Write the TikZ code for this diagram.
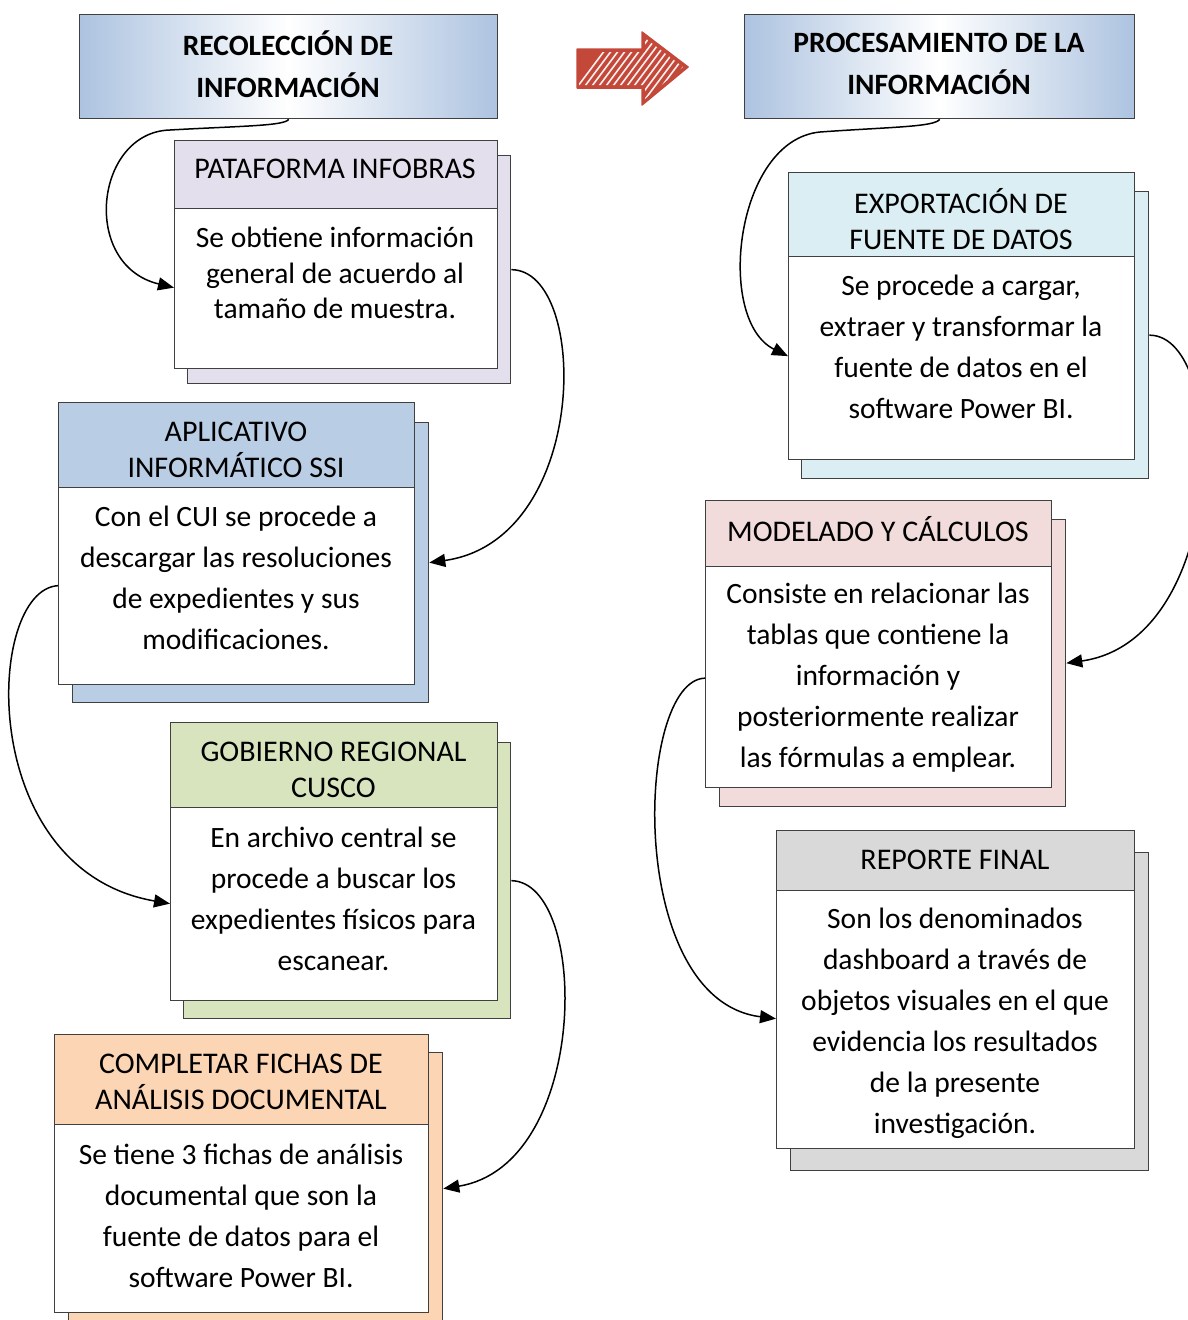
\documentclass[tikz,border=0pt]{standalone}
\usepackage{fontspec}
\setmainfont{Carlito}
\usetikzlibrary{arrows.meta}

\definecolor{framegray}{HTML}{404040}
\definecolor{hdblue}{HTML}{ADC3E0}
\definecolor{lav}{HTML}{E4DFEC}
\definecolor{sblue}{HTML}{B9CDE5}
\definecolor{sgreen}{HTML}{D7E4BD}
\definecolor{sorange}{HTML}{FCD5B5}
\definecolor{scyan}{HTML}{DBEEF4}
\definecolor{spink}{HTML}{F2DCDB}
\definecolor{sgray}{HTML}{D9D9D9}
\definecolor{arrred}{HTML}{C4483A}

\tikzset{
  backcard/.style={draw=framegray, line width=1.3pt, anchor=north west, inner sep=0pt},
  frontcard/.style={draw=framegray, fill=white, line width=1.3pt, anchor=north west, inner sep=0pt},
  bandcard/.style={draw=framegray, line width=1.3pt, anchor=north west, inner sep=0pt},
  topbox/.style={draw=framegray, line width=1.3pt, anchor=north west, inner sep=0pt,
    left color=hdblue, right color=hdblue, middle color=white},
  toptitle/.style={align=center, font=\fontsize{29.5}{42}\selectfont\bfseries},
  cardtitle/.style={align=center, font=\fontsize{30}{36}\selectfont},
  cardtext/.style={align=center, font=\fontsize{29.5}{41}\selectfont},
  link/.style={line width=1.5pt, -{Triangle[length=16pt,width=13pt]}}
}

\begin{document}
\begin{tikzpicture}[x=1pt,y=-1pt]
  \useasboundingbox (0,0) rectangle (1187,1320);

  % headers
  \node[topbox, minimum width=418pt, minimum height=104pt] (hdL) at (79,14) {};
  \node[toptitle] (tL) at (288,64) {RECOLECCIÓN DE\\INFORMACIÓN};
  \node[topbox, minimum width=390pt, minimum height=104pt] (hdR) at (744,14) {};
  \node[toptitle] (tR) at (939,64) {PROCESAMIENTO DE LA\\INFORMACIÓN};

  % big red arrow
  \fill[arrred] (577,49) -- (642,49) -- (642,32) -- (688,67) -- (642,105) -- (642,88) -- (577,88) -- cycle;
  \begin{scope}
    \clip (579,52) -- (645,52) -- (645,38) -- (683,67) -- (645,99) -- (645,85) -- (579,85) -- cycle;
    \foreach \s in {0,7,...,160}
      \draw[white!92!arrred, line width=1.6pt] (560+\s,110) -- (620+\s,30);
  \end{scope}
  \draw[arrred, line width=1.5pt, line join=round] (577,49) -- (642,49) -- (642,32) -- (688,67) -- (642,105) -- (642,88) -- (577,88) -- cycle;

  % left column
  \node[backcard, fill=lav, minimum width=323pt, minimum height=228pt] (sh1) at (187,155) {};
  \node[frontcard, minimum width=323pt, minimum height=228pt] (cd1) at (174,140) {};
  \node[bandcard, fill=lav, minimum width=323pt, minimum height=68pt] (hd1) at (cd1.north west) {};
  \node[cardtitle] (n1) at (335,169) {PATAFORMA INFOBRAS};
  \node[cardtext, font=\fontsize{29.5}{35.5}\selectfont] (b1) at (335,273) {Se obtiene información\\general de acuerdo al\\tamaño de muestra.};

  \node[backcard, fill=sblue, minimum width=356pt, minimum height=280pt] (sh2) at (72,422) {};
  \node[frontcard, minimum width=356pt, minimum height=282pt] (cd2) at (58,402) {};
  \node[bandcard, fill=sblue, minimum width=356pt, minimum height=85pt] (hd2) at (cd2.north west) {};
  \node[cardtitle] (n2) at (236,449.5) {APLICATIVO\\INFORMÁTICO SSI};
  \node[cardtext] (b2) at (236,577.5) {Con el CUI se procede a\\descargar las resoluciones\\de expedientes y sus\\modificaciones.};

  \node[backcard, fill=sgreen, minimum width=327pt, minimum height=276pt] (sh3) at (183,742) {};
  \node[frontcard, minimum width=327pt, minimum height=278pt] (cd3) at (170,722) {};
  \node[bandcard, fill=sgreen, minimum width=327pt, minimum height=85pt] (hd3) at (cd3.north west) {};
  \node[cardtitle] (n3) at (333.5,770) {GOBIERNO REGIONAL\\CUSCO};
  \node[cardtext] (b3) at (333.5,898.5) {En archivo central se\\procede a buscar los\\expedientes físicos para\\escanear.};

  \node[backcard, fill=sorange, minimum width=374pt, minimum height=272pt] (sh4) at (68,1052) {};
  \node[frontcard, minimum width=374pt, minimum height=278pt] (cd4) at (54,1034) {};
  \node[bandcard, fill=sorange, minimum width=374pt, minimum height=90pt] (hd4) at (cd4.north west) {};
  \node[cardtitle] (n4) at (241,1082) {COMPLETAR FICHAS DE\\ANÁLISIS DOCUMENTAL};
  \node[cardtext] (b4) at (241,1215.5) {Se tiene 3 fichas de análisis\\documental que son la\\fuente de datos para el\\software Power BI.};

  % right column
  \node[backcard, fill=scyan, minimum width=347pt, minimum height=287pt] (sh5) at (801,191) {};
  \node[frontcard, minimum width=346pt, minimum height=287pt] (cd5) at (788,172) {};
  \node[bandcard, fill=scyan, minimum width=346pt, minimum height=84pt] (hd5) at (cd5.north west) {};
  \node[cardtitle] (n5) at (961,219) {EXPORTACIÓN DE\\FUENTE DE DATOS};
  \node[cardtext] (b5) at (961,346.5) {Se procede a cargar,\\extraer y transformar la\\fuente de datos en el\\software Power BI.};

  \node[backcard, fill=spink, minimum width=346pt, minimum height=287pt] (sh6) at (719,519) {};
  \node[frontcard, minimum width=346pt, minimum height=287pt] (cd6) at (705,500) {};
  \node[bandcard, fill=spink, minimum width=346pt, minimum height=66pt] (hd6) at (cd6.north west) {};
  \node[cardtitle] (n6) at (878,529) {MODELADO Y CÁLCULOS};
  \node[cardtext] (b6) at (878,678) {Consiste en relacionar las\\tablas que contiene la\\información y\\posteriormente realizar\\las fórmulas a emplear.};

  \node[backcard, fill=sgray, minimum width=358pt, minimum height=318pt] (sh7) at (790,852) {};
  \node[frontcard, minimum width=358pt, minimum height=318pt] (cd7) at (776,830) {};
  \node[bandcard, fill=sgray, minimum width=358pt, minimum height=60pt] (hd7) at (cd7.north west) {};
  \node[cardtitle] (n7) at (955,860) {REPORTE FINAL};
  \node[cardtext] (b7) at (955,1023) {Son los denominados\\dashboard a través de\\objetos visuales en el que\\evidencia los resultados\\de la presente\\investigación.};

  % connectors
  \draw[link] (hdL.south) .. controls (285,126) and (240,126) .. (170,130)
    .. controls (95,132) and (80,265) .. ([yshift=-33pt]cd1.west);
  \draw[link] (sh1.east) .. controls (590,270) and (590,540) .. (sh2.east);
  \draw[link] ([yshift=-42pt]cd2.west) .. controls (-15,590) and (-25,870) .. ([yshift=-42pt]cd3.west);
  \draw[link] (sh3.east) .. controls (590,882) and (590,1165) .. (sh4.east);
  \draw[link] (hdR.south) .. controls (935,127) and (890,127) .. (820,132)
    .. controls (735,140) and (715,320) .. ([yshift=-40pt]cd5.west);
  \draw[link] (sh5.east) .. controls (1230,335) and (1230,640) .. (sh6.east);
  \draw[link] ([yshift=-34pt]cd6.west) .. controls (635,680) and (625,1000) .. ([yshift=-29pt]cd7.west);
\end{tikzpicture}
\end{document}
